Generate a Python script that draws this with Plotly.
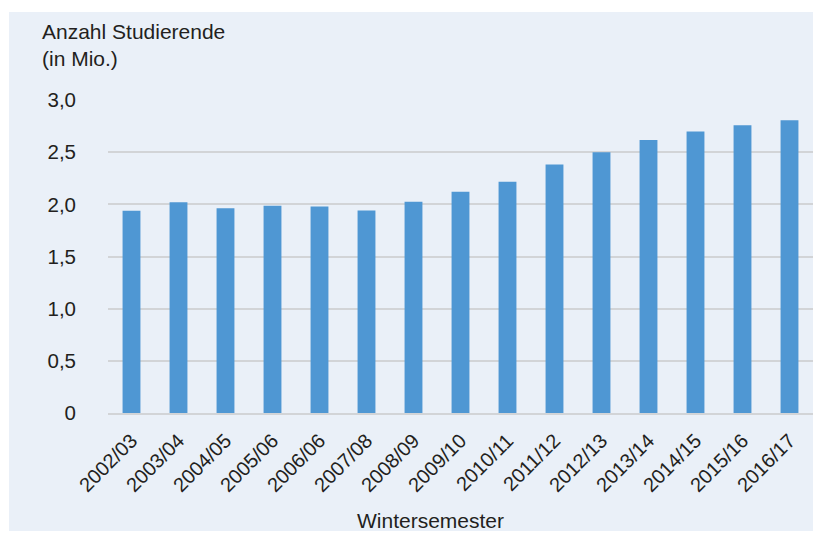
import plotly.graph_objects as go

semester = ["2002/03", "2003/04", "2004/05", "2005/06", "2006/06", "2007/08", "2008/09",
            "2009/10", "2010/11", "2011/12", "2012/13", "2013/14", "2014/15", "2015/16", "2016/17"]
studierende = [1.939, 2.020, 1.963, 1.986, 1.979, 1.941, 2.025,
               2.121, 2.217, 2.381, 2.499, 2.617, 2.699, 2.758, 2.807]
y_tickvals = [0, 0.5, 1.0, 1.5, 2.0, 2.5, 3.0]
y_ticktext = ["0", "0,5", "1,0", "1,5", "2,0", "2,5", "3,0"]

PANEL = "#EAF0F8"
GRID = "#D2D4D7"
TXT = "#231F20"
FONT = "Liberation Sans, Arial, sans-serif"

OFF = 8  # page body margin
W, H = 821 - 2 * OFF, 539 - 2 * OFF
L, T = 108 - OFF, 100 - OFF
R = W - (813 - OFF)
B = H - (413 - OFF)
pw, ph = W - L - R, H - T - B

def px(x):
    # x in screenshot pixels -> paper coordinate
    return (x - OFF - L) / pw

def py(y):
    return (H - B - (y - OFF)) / ph

fig = go.Figure(go.Bar(
    x=semester, y=studierende, marker_color="#4F97D3", width=0.38,
    marker_line_width=0, hoverinfo="x+y"))

fig.update_layout(
    width=W, height=H,
    margin=dict(l=L, r=R, t=T, b=B, pad=0),
    paper_bgcolor=PANEL, plot_bgcolor=PANEL,
    font=dict(family=FONT, size=20, color=TXT),
    showlegend=False,
    shapes=[
        dict(type="rect", xref="paper", yref="paper", layer="below",
             x0=px(0), x1=px(9), y0=py(560), y1=py(0),
             fillcolor="white", line_width=0),
        dict(type="rect", xref="paper", yref="paper", layer="below",
             x0=px(0), x1=px(840), y0=py(12), y1=py(0),
             fillcolor="white", line_width=0),
    ],
    annotations=[
        dict(text="Anzahl Studierende<br>(in Mio.)", xref="paper", yref="paper",
             x=px(40), y=py(18), xanchor="left", yanchor="top", align="left",
             showarrow=False, font=dict(size=21, color=TXT, family=FONT)),
        dict(text="Wintersemester", xref="paper", yref="paper",
             x=px(430), y=py(520), xanchor="center", yanchor="middle",
             showarrow=False, font=dict(size=21, color=TXT, family=FONT)),
    ],
)

fig.update_xaxes(
    type="category", tickangle=-45, showgrid=False,
    showline=True, linecolor=GRID, linewidth=2,
    ticks="", ticklabelstandoff=6,
    tickfont=dict(size=20, color=TXT, family=FONT),
    range=[-0.5, 14.5], fixedrange=True)

fig.update_yaxes(
    range=[0, 3.0], tickvals=y_tickvals, ticktext=y_ticktext,
    showgrid=True, gridcolor=GRID, gridwidth=2,
    zeroline=False, showline=False, ticks="", ticklabelstandoff=31,
    tickfont=dict(size=20.5, color=TXT, family=FONT), fixedrange=True)

fig.write_html("out.html")
